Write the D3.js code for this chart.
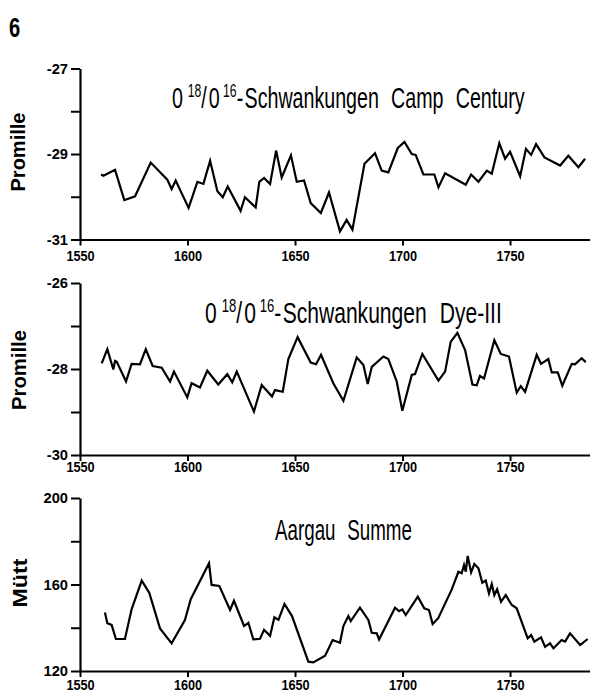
<!DOCTYPE html>
<html>
<head>
<meta charset="utf-8">
<script src="https://cdn.jsdelivr.net/npm/d3@7"></script>
<style>
  body { margin: 0; background: #fff; }
  .cond { font-family: "Liberation Sans", Arial, sans-serif; }
  .ylab { font-family: "Liberation Sans", Arial, sans-serif; font-weight: bold; font-size: 20px; }
</style>
</head>
<body>
<div class="chart"></div>
<script>
var svgWidth = 592;
var svgHeight = 697;

// x axis (years) shared by all three panels
var yearTicks = [1550, 1600, 1650, 1700, 1750];

// Camp Century O18/O16 (Promille)
var campYears = [1559.8, 1560.9, 1566.3, 1570.6, 1575.6, 1582.9, 1590.6, 1592.6, 1594.5, 1600.5,
  1604.6, 1607.4, 1610.5, 1613.9, 1616.4, 1618.7, 1624.7, 1626.7, 1631.7, 1633.4,
  1635.6, 1638.4, 1641.2, 1643.8, 1648.1, 1650.8, 1654.2, 1657.3, 1662.0, 1665.8,
  1670.9, 1674.0, 1676.7, 1682.3, 1687.2, 1690.3, 1693.4, 1697.8, 1700.9, 1704.3,
  1706.1, 1709.7, 1714.8, 1716.7, 1719.8, 1729.4, 1731.9, 1735.3, 1739.2, 1741.5,
  1745.0, 1747.7, 1750.0, 1754.7, 1757.4, 1759.8, 1762.1, 1766.0, 1773.3, 1777.1,
  1781.8, 1784.9];
var campValues = [-29.48, -29.51, -29.37, -30.08, -29.99, -29.20, -29.60, -29.82, -29.62, -30.26,
  -29.65, -29.70, -29.16, -29.87, -30.01, -29.76, -30.33, -30.01, -30.25, -29.65,
  -29.56, -29.70, -28.92, -29.55, -29.03, -29.65, -29.62, -30.15, -30.38, -29.90,
  -30.81, -30.54, -30.77, -29.23, -28.98, -29.39, -29.43, -28.86, -28.72, -29.00,
  -29.02, -29.48, -29.48, -29.78, -29.45, -29.72, -29.48, -29.65, -29.39, -29.46,
  -28.75, -29.11, -28.95, -29.52, -28.88, -29.02, -28.77, -29.08, -29.27, -29.04,
  -29.31, -29.11];
var campTicks = [-31, -30, -29, -28, -27];
var campTickLabels = ["-31", "", "-29", "", "-27"];

// Dye-III O18/O16 (Promille)
var dyeYears = [1560.1, 1562.7, 1565.5, 1566.3, 1567.1, 1571.4, 1574.0, 1577.9, 1580.6, 1583.8,
  1588.0, 1591.9, 1593.7, 1599.9, 1601.9, 1605.8, 1609.2, 1614.3, 1618.5, 1620.8,
  1622.9, 1630.9, 1634.5, 1639.3, 1640.7, 1644.3, 1646.9, 1651.2, 1657.3, 1659.8,
  1662.1, 1667.8, 1672.5, 1678.7, 1681.8, 1683.8, 1685.7, 1691.1, 1693.4, 1697.3,
  1699.9, 1704.3, 1705.8, 1709.2, 1716.7, 1719.8, 1722.4, 1725.5, 1729.1, 1732.5,
  1734.5, 1736.0, 1737.9, 1742.7, 1745.7, 1749.5, 1753.1, 1755.0, 1757.0, 1762.4,
  1764.4, 1767.8, 1769.4, 1772.2, 1774.3, 1778.7, 1780.2, 1783.3, 1785.2];
var dyeValues = [-27.87, -27.54, -28.01, -27.81, -27.83, -28.29, -27.88, -27.89, -27.54, -27.93,
  -27.97, -28.29, -28.06, -28.66, -28.33, -28.43, -28.04, -28.36, -28.12, -28.31,
  -28.06, -28.99, -28.37, -28.64, -28.49, -28.53, -27.77, -27.26, -27.85, -27.89,
  -27.67, -28.33, -28.74, -27.73, -27.91, -28.35, -27.95, -27.71, -27.77, -28.29,
  -28.97, -28.14, -28.12, -27.65, -28.27, -28.06, -27.37, -27.16, -27.56, -28.36,
  -28.38, -28.16, -28.22, -27.33, -27.65, -27.71, -28.55, -28.40, -28.53, -27.67,
  -27.88, -27.77, -28.08, -28.08, -28.39, -27.88, -27.89, -27.75, -27.84];
var dyeTicks = [-30, -29, -28, -27, -26];
var dyeTickLabels = ["-30", "", "-28", "", "-26"];

// Aargau Summe (Mütt)
var aargauYears = [1561.6, 1562.7, 1564.7, 1566.7, 1570.9, 1574.0, 1578.7, 1582.2, 1587.2, 1592.6,
  1598.8, 1601.5, 1610.0, 1611.2, 1614.8, 1619.8, 1621.6, 1626.3, 1628.3, 1630.6,
  1633.7, 1635.6, 1638.4, 1640.4, 1642.3, 1645.1, 1648.6, 1656.2, 1658.5, 1664.0,
  1667.5, 1670.9, 1672.5, 1674.8, 1675.9, 1680.2, 1684.1, 1685.7, 1688.0, 1689.1,
  1696.5, 1698.4, 1699.9, 1701.5, 1707.1, 1710.1, 1712.3, 1714.0, 1716.6, 1722.8,
  1726.0, 1727.5, 1728.6, 1729.4, 1730.3, 1731.9, 1733.4, 1735.3, 1737.1, 1738.7,
  1740.2, 1741.5, 1742.7, 1744.0, 1745.8, 1748.0, 1750.8, 1753.1, 1758.2, 1759.8,
  1761.3, 1764.4, 1766.3, 1768.6, 1770.2, 1774.0, 1775.6, 1777.9, 1782.6, 1786.1];
var aargauValues = [147.0, 142.1, 141.3, 134.8, 134.8, 148.5, 161.8, 156.2, 139.7, 132.8,
  143.6, 153.2, 169.8, 159.8, 159.3, 148.2, 152.5, 140.8, 142.3, 134.6,
  134.9, 139.0, 136.3, 144.8, 143.6, 151.0, 145.4, 124.3, 124.0, 127.1,
  134.3, 133.1, 140.8, 145.4, 143.1, 149.3, 143.6, 137.7, 137.4, 134.6,
  149.3, 147.7, 148.5, 145.9, 154.4, 149.0, 148.2, 141.7, 144.4, 157.5,
  165.9, 165.2, 169.0, 165.9, 173.2, 165.6, 169.5, 167.5, 160.8, 161.8,
  155.9, 160.2, 155.1, 157.8, 152.0, 155.1, 150.5, 149.0, 135.1, 136.6,
  133.6, 135.6, 131.2, 132.8, 130.5, 134.3, 133.6, 137.4, 132.0, 134.8];
var aargauTicks = [120, 140, 160, 180, 200];
var aargauTickLabels = ["120", "", "160", "", "200"];

var svg = d3
    .select(".chart")
    .append("svg")
    .attr("width", svgWidth)
    .attr("height", svgHeight);

// no narrow font installed, so squeeze text sideways instead
function condense(sel, sx) {
    sel.each(function () {
        var el = d3.select(this);
        var x = +el.attr("x") || 0;
        el.attr("x", x / sx).attr("transform", `scale(${sx},1)`);
    });
}

// figure number
svg.append("text")
    .attr("class", "cond")
    .attr("x", 9)
    .attr("y", 37)
    .style("font-size", "28px")
    .style("font-weight", "bold")
    .text("6")
    .call(condense, 0.72);

var xScale = d3.scaleLinear()
    .domain([1550, 1787])
    .range([80, 589.6]);

function drawPanel(p) {
    var yScale = d3.scaleLinear()
        .domain(p.domain)
        .range([p.bottom, p.top]);

    var g = svg.append("g");

    // y axis
    var leftAxis = d3.axisLeft(yScale)
        .tickValues(p.ticks)
        .tickFormat((d, i) => p.tickLabels[i])
        .tickSize(9)
        .tickSizeOuter(0)
        .tickPadding(3);

    var yAxis = g.append("g")
        .attr("transform", `translate(${xScale(1550)},0)`)
        .call(leftAxis);

    // x axis
    var bottomAxis = d3.axisBottom(xScale)
        .tickValues(yearTicks)
        .tickFormat(d => String(d))
        .tickSize(6)
        .tickSizeOuter(0)
        .tickPadding(p.xPad);

    var xAxis = g.append("g")
        .attr("transform", `translate(0,${p.bottom})`)
        .call(bottomAxis);

    [yAxis, xAxis].forEach(function (ax) {
        ax.select(".domain").attr("stroke", "#000").attr("stroke-width", 2.2);
        ax.selectAll(".tick line").attr("stroke", "#000").attr("stroke-width", 2);
        ax.selectAll(".tick text")
            .attr("class", "cond")
            .attr("fill", "#000")
            .style("font-size", "15.5px")
            .style("font-weight", "bold");
    });
    xAxis.selectAll(".tick text").call(condense, 0.82);
    yAxis.selectAll(".tick text").call(condense, 0.95);

    // the series
    var line = d3.line()
        .x((d, i) => xScale(p.years[i]))
        .y(d => yScale(d));

    g.append("path")
        .datum(p.values)
        .attr("d", line)
        .attr("fill", "none")
        .attr("stroke", "#000")
        .attr("stroke-width", 2.2)
        .attr("stroke-linejoin", "miter");

    // unit label
    g.append("text")
        .attr("class", "ylab")
        .attr("transform", `translate(${p.unitX},${p.unitY}) rotate(-90)`)
        .attr("text-anchor", "middle")
        .attr("textLength", p.unitLen)
        .attr("lengthAdjust", "spacingAndGlyphs")
        .text(p.unit);

    // title
    var t = g.append("text")
        .attr("class", "cond")
        .attr("x", p.titleX)
        .attr("y", p.titleY)
        .style("font-size", "29px");

    if (p.isotope) {
        t.append("tspan").text("0");
        t.append("tspan").attr("dx", 7).attr("dy", -11).style("font-size", "18px").text("18");
        t.append("tspan").attr("dy", 11).text("/");
        t.append("tspan").attr("dx", 3).text("0");
        t.append("tspan").attr("dx", 5).attr("dy", -11).style("font-size", "18px").text("16");
        t.append("tspan").attr("dy", 11).text("-");
        t.append("tspan").attr("dx", 2).text("Schwankungen");
    }
    p.titleWords.forEach(function (w, i) {
        t.append("tspan").attr("dx", (i === 0 && !p.isotope) ? 0 : 18).text(w);
    });

    // squeeze the title to the width it has in the figure
    var w = t.node().getBBox().width;
    var sx = p.titleW / w;
    t.attr("transform", `translate(${p.titleX},0) scale(${sx},1) translate(${-p.titleX},0)`);
}

drawPanel({
    years: campYears, values: campValues,
    domain: [-31, -27], ticks: campTicks, tickLabels: campTickLabels,
    top: 68.5, bottom: 239.5, xPad: 5,
    unit: "Promille", unitX: 25, unitY: 152, unitLen: 79,
    isotope: true, titleWords: ["Camp", "Century"], titleX: 172, titleY: 108, titleW: 353
});

drawPanel({
    years: dyeYears, values: dyeValues,
    domain: [-30, -26], ticks: dyeTicks, tickLabels: dyeTickLabels,
    top: 283, bottom: 455, xPad: 0,
    unit: "Promille", unitX: 26, unitY: 370, unitLen: 80,
    isotope: true, titleWords: ["Dye-III"], titleX: 205, titleY: 323, titleW: 297
});

drawPanel({
    years: aargauYears, values: aargauValues,
    domain: [120, 200], ticks: aargauTicks, tickLabels: aargauTickLabels,
    top: 498, bottom: 671, xPad: 2,
    unit: "Mütt", unitX: 27, unitY: 583, unitLen: 49,
    isotope: false, titleWords: ["Aargau", "Summe"], titleX: 275, titleY: 540, titleW: 137
});
</script>
</body>
</html>
